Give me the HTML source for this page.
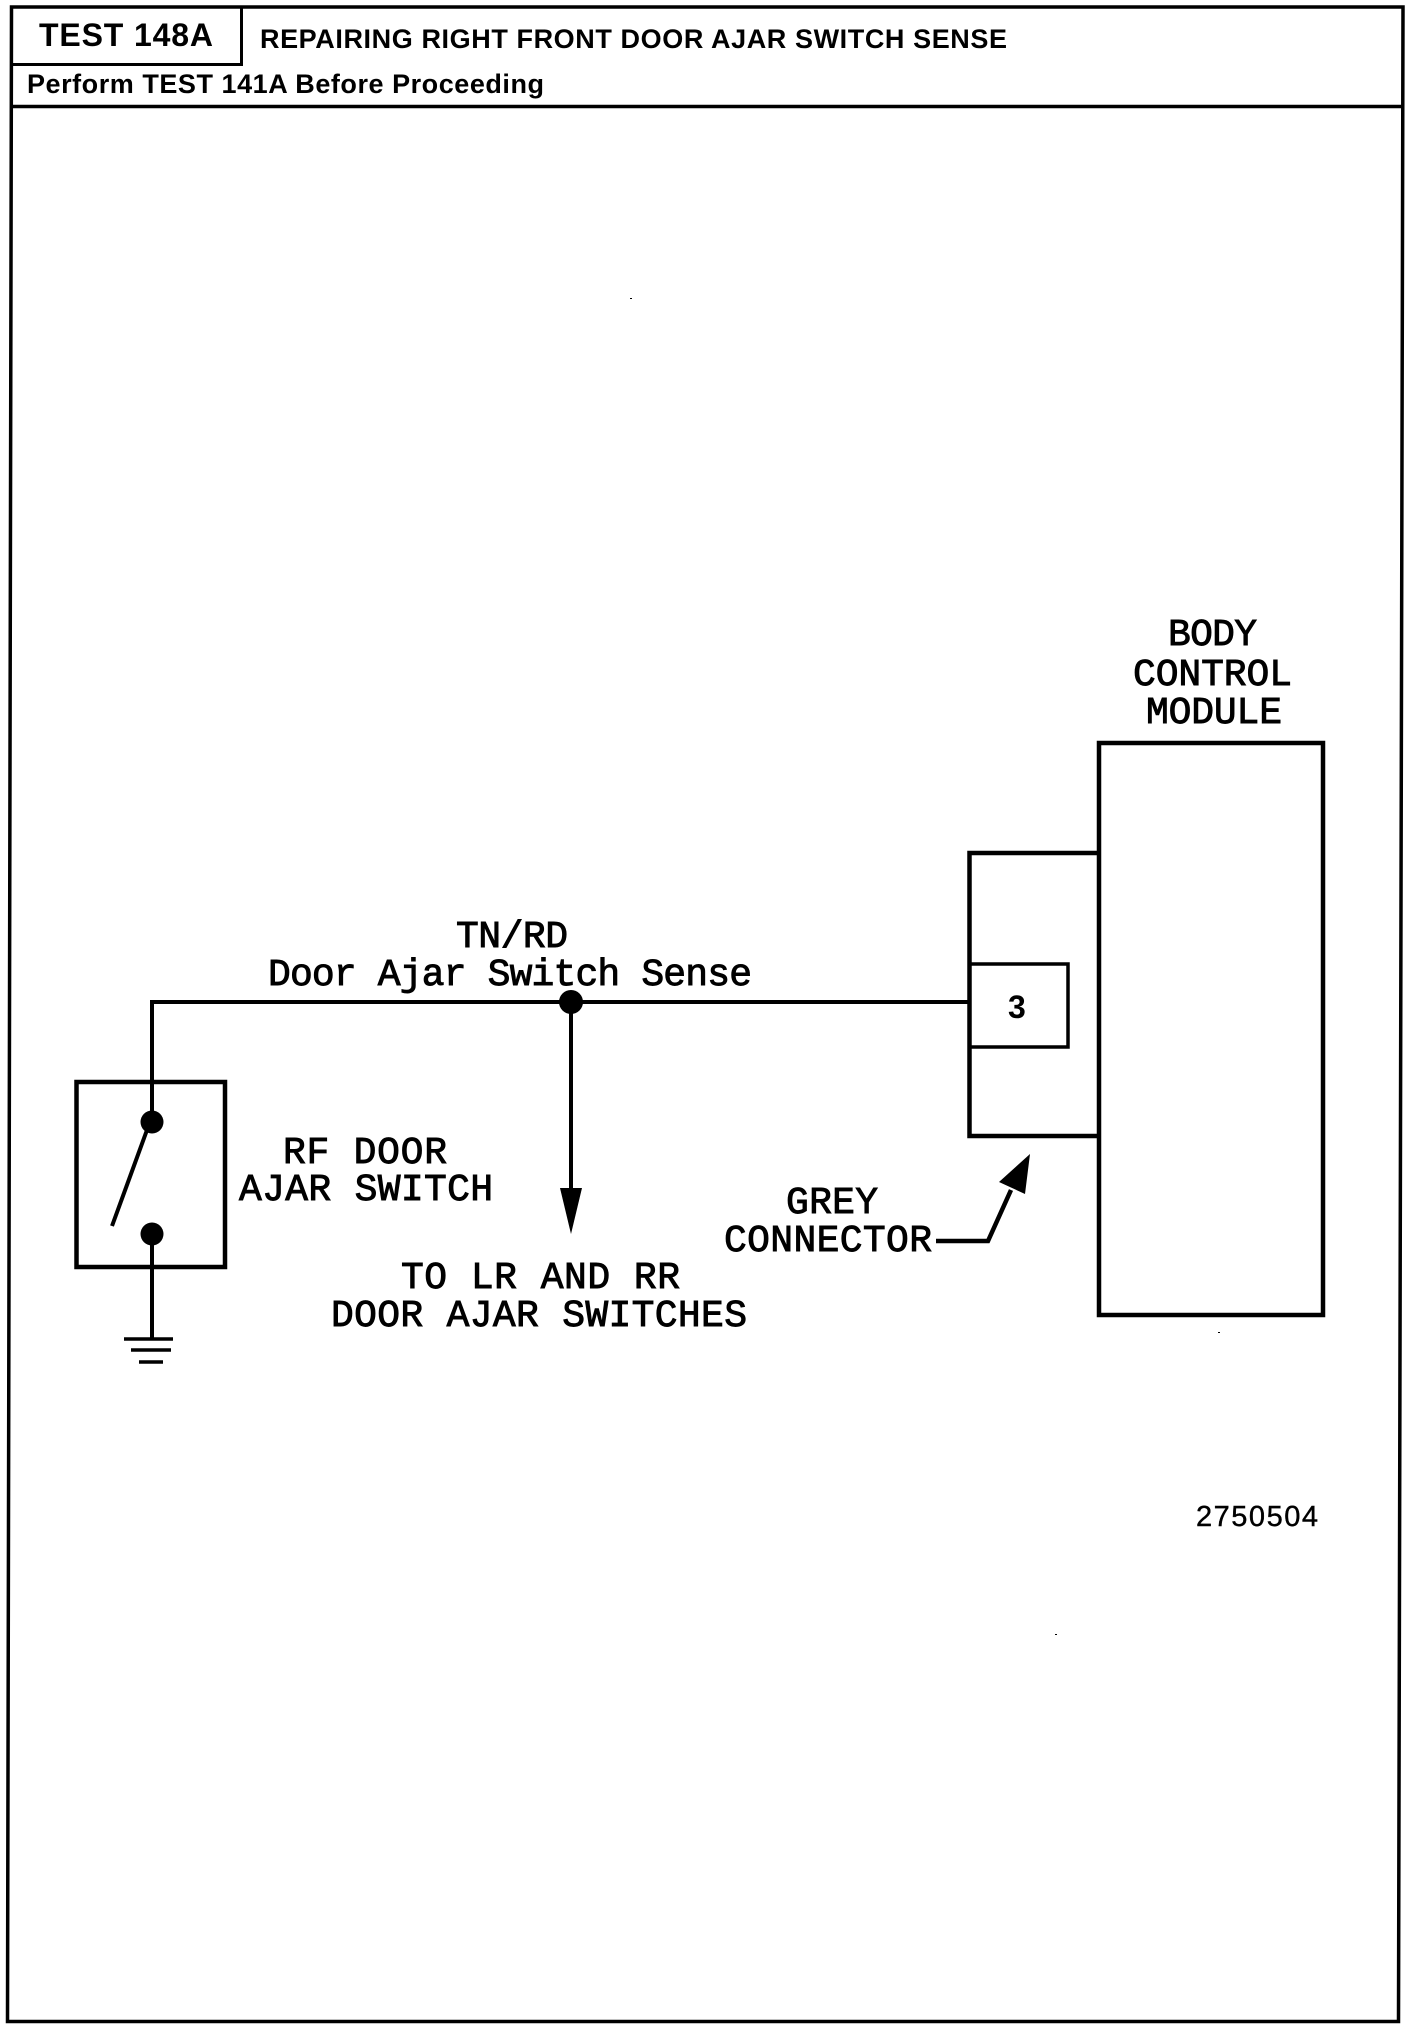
<!DOCTYPE html>
<html><head><meta charset="utf-8"><style>
html,body{margin:0;padding:0;background:#fff}
svg{display:block}
.h{font-family:"Liberation Sans",sans-serif;font-weight:700;fill:#000}
.c{font-family:"Liberation Mono",monospace;font-size:38px;fill:#000;stroke:#000;stroke-width:.9}
</style></head><body>
<svg width="1424" height="2030" viewBox="0 0 1424 2030" xmlns="http://www.w3.org/2000/svg">
<rect width="1424" height="2030" fill="#fff"/>
<g fill="none" stroke="#000" stroke-width="3.5">
<path d="M11.5 7H1403L1398.5 2021.5H7.5Z"/>
<path d="M11 64.5H241.5V7" stroke-width="3"/>
<path d="M11 106.5H1403"/>
<rect x="1099" y="743" width="224" height="572" stroke-width="4.5"/>
<path d="M1099 853H969.5V1136H1099" stroke-width="4.5"/>
<path d="M969 964H1068V1047H969" stroke-width="3.5"/>
<rect x="76.5" y="1082" width="148.5" height="185" stroke-width="4.5"/>
<path d="M969 1002H152V1122M152 1234V1338" stroke-width="4"/>
<path d="M571 1002V1195" stroke-width="4"/>
<path d="M147 1130L112 1226" stroke-width="4"/>
<path d="M124 1339H173M131 1350H171M139 1362H163" stroke-width="3.5"/>
<path d="M936 1241H988L1011 1190" stroke-width="4.5"/>
</g>
<circle cx="152" cy="1122" r="11.5"/><circle cx="152" cy="1234" r="11.5"/><circle cx="571" cy="1002" r="12"/>
<path d="M560 1188H582L571 1234Z"/>
<path d="M1030 1154L999 1182L1025 1194Z"/>
<rect x="630" y="298" width="2" height="1"/><rect x="1218" y="1332" width="2" height="1"/><rect x="1055" y="1634" width="2" height="1"/>
<text class="h" x="39" y="46" font-size="32" textLength="174">TEST 148A</text>
<text class="h" x="260" y="48" font-size="27" textLength="747">REPAIRING RIGHT FRONT DOOR AJAR SWITCH SENSE</text>
<text class="h" x="27" y="93" font-size="27" textLength="517">Perform TEST 141A Before Proceeding</text>
<text class="c" x="456" y="947" textLength="112">TN/RD</text>
<text class="c" x="268" y="985" textLength="484">Door Ajar Switch Sense</text>
<text class="c" x="283" y="1163" textLength="164">RF DOOR</text>
<text class="c" x="239" y="1200" textLength="254">AJAR SWITCH</text>
<text class="c" x="401" y="1288" textLength="279">TO LR AND RR</text>
<text class="c" x="331" y="1326" textLength="416">DOOR AJAR SWITCHES</text>
<text class="c" x="786" y="1213" textLength="92">GREY</text>
<text class="c" x="724" y="1251" textLength="208">CONNECTOR</text>
<text class="c" x="1168" y="645" textLength="89">BODY</text>
<text class="c" x="1133" y="685" textLength="159">CONTROL</text>
<text class="c" x="1146" y="723" textLength="136">MODULE</text>
<text class="h" x="1008" y="1018" font-size="32">3</text>
<text x="1196" y="1526" font-family="Liberation Sans,sans-serif" font-size="29" textLength="122" fill="#000" stroke="#000" stroke-width=".4">2750504</text>
</svg>
</body></html>
